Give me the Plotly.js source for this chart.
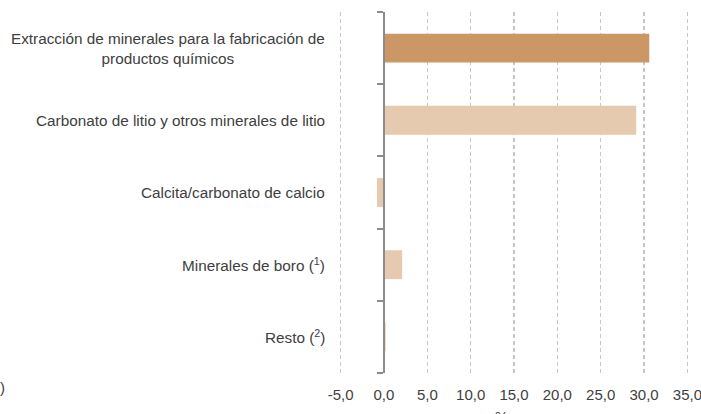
<!DOCTYPE html>
<html><head><meta charset="utf-8">
<script src="https://cdn.plot.ly/plotly-3.0.1.min.js"></script>
<style>html,body{margin:0;padding:0;background:#fff}</style>
</head><body>
<div id="chart" style="width:701px;height:414px"></div>
<script>
var categories = [
  "Extracción de minerales para la fabricación de<br>productos químicos",
  "Carbonato de litio y otros minerales de litio",
  "Calcita/carbonato de calcio",
  "Minerales de boro (<sup>1</sup>)",
  "Resto (<sup>2</sup>)"
];
var values = [30.6, 29.1, -0.8, 2.1, 0.2];
var barColors = ["#cb9865", "#e6cab0", "#e6cab0", "#e6cab0", "#e6cab0"];
var xTickVals = [-5, 0, 5, 10, 15, 20, 25, 30, 35];
var xTickText = ["-5,0", "0,0", "5,0", "10,0", "15,0", "20,0", "25,0", "30,0", "35,0"];
var xTitle = "%";

var font = "Liberation Sans, Arial, Helvetica, sans-serif";
var textColor = "#404040";
var idx = categories.map(function(c, i){ return i; });

var traces = [
  {type: "bar", orientation: "h", y: idx, x: values,
   marker: {color: barColors, line: {width: 0}},
   width: 0.4, hoverinfo: "x", yaxis: "y"},
  {type: "scatter", mode: "none", y: idx, x: values.map(function(){return 0;}),
   yaxis: "y2", hoverinfo: "skip", showlegend: false}
];

var xmin = -5.3, xmax = 35.3;
var ml = 338, mr = 11;
var plotW = 701 - ml - mr;

var annotations = categories.map(function(c, i){
  return {xref: "paper", yref: "y", x: 0, y: i, xanchor: "right", yanchor: "middle",
    xshift: -11, text: c, showarrow: false, align: "center",
    font: {family: font, size: 15.3, color: textColor}};
});
annotations.push({xref: "paper", yref: "paper", x: -ml / plotW, y: 0, xanchor: "left",
  yanchor: "top", yshift: -4, xshift: -2, text: ")", showarrow: false,
  font: {family: font, size: 15, color: textColor}});
annotations.push({xref: "x", yref: "paper", x: 13.5, y: 0, xanchor: "center",
  yanchor: "top", yshift: -33, text: xTitle, showarrow: false,
  font: {family: font, size: 15, color: textColor}});

var layout = {
  width: 701, height: 414,
  margin: {l: ml, r: mr, t: 12, b: 41},
  paper_bgcolor: "#ffffff", plot_bgcolor: "#ffffff",
  showlegend: false,
  bargap: 0.6,
  xaxis: {range: [xmin, xmax], tickvals: xTickVals, ticktext: xTickText,
    showgrid: true, gridcolor: "#c6c6c6", gridwidth: 1.4, griddash: "4px,3px",
    zeroline: false, showline: false, ticks: "", ticklabelstandoff: 11,
    ticklabeloverflow: "allow",
    tickfont: {family: font, size: 15, color: textColor},
    fixedrange: true},
  yaxis: {range: [4.5, -0.5], showticklabels: false, showgrid: false,
    zeroline: false, showline: false, ticks: "", fixedrange: true},
  yaxis2: {range: [4.5, -0.5], overlaying: "y", anchor: "free",
    position: (0 - xmin) / (xmax - xmin),
    side: "left", type: "linear", tickmode: "array",
    tickvals: [-0.5, 0.5, 1.5, 2.5, 3.5, 4.5], showticklabels: false,
    showgrid: false, zeroline: false, showline: true, linecolor: "#8c8c8c", linewidth: 2,
    ticks: "outside", ticklen: 6, tickwidth: 2, tickcolor: "#8c8c8c", fixedrange: true},
  annotations: annotations
};

Plotly.newPlot("chart", traces, layout, {displayModeBar: false, staticPlot: true});
</script>
</body></html>
